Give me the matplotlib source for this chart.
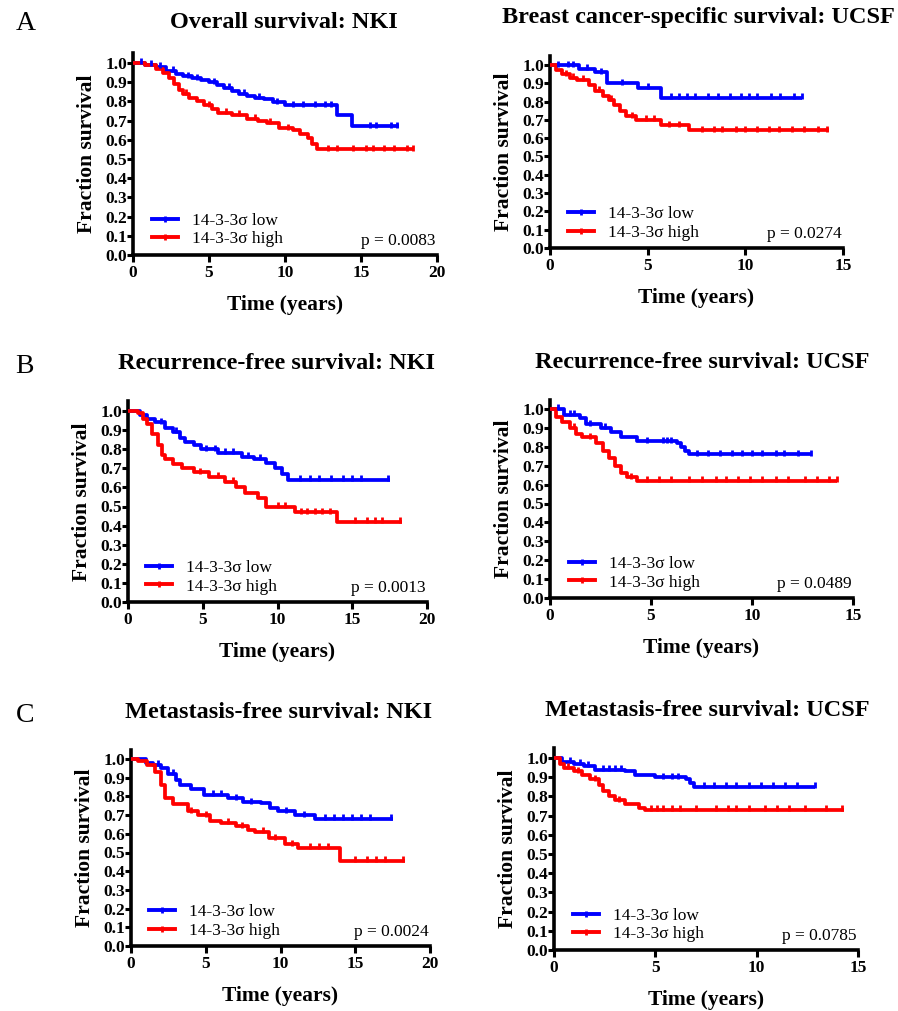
import numpy as np
import matplotlib
matplotlib.use('Agg')
import matplotlib.pyplot as plt
from matplotlib.lines import Line2D

plt.rcParams['font.family'] = ['Liberation Serif', 'DejaVu Serif']

W, H = 898, 1011

# ---- data ----
# A left: overall survival, NKI
os_nki_low_t = [0, 0.8, 1.5, 2.2, 2.8, 3.3, 3.9, 4.5, 5.0, 5.5, 6.0, 6.5, 7.0, 7.5, 8.0, 8.6, 9.2, 10.0, 13.4, 14.4, 17.5]
os_nki_low_s = [1.0, 0.99, 0.98, 0.96, 0.945, 0.93, 0.92, 0.91, 0.90, 0.885, 0.87, 0.855, 0.84, 0.83, 0.82, 0.81, 0.795, 0.78, 0.73, 0.67, 0.67]
os_nki_low_c = [0.5, 1.2, 1.8, 2.6, 3.6, 4.2, 5.3, 6.3, 7.3, 8.3, 9.5, 10.5, 11.2, 12.0, 12.6, 13.0, 15.6, 16.0, 17.0, 17.4]
os_nki_high_t = [0, 0.8, 1.5, 2.0, 2.4, 2.7, 3.0, 3.3, 3.7, 4.2, 4.7, 5.2, 5.6, 6.5, 7.5, 8.2, 8.8, 9.6, 10.5, 11.0, 11.5, 11.8, 12.1, 18.5]
os_nki_high_s = [1.0, 0.99, 0.97, 0.95, 0.92, 0.89, 0.86, 0.84, 0.82, 0.80, 0.78, 0.76, 0.74, 0.73, 0.71, 0.70, 0.69, 0.66, 0.65, 0.63, 0.61, 0.58, 0.55, 0.55]
os_nki_high_c = [3.5, 5.0, 6.1, 7.0, 8.0, 9.0, 10.2, 12.8, 13.4, 14.5, 15.3, 15.8, 16.5, 17.2, 18.0, 18.4]

# A right: breast cancer-specific survival, UCSF
bcss_ucsf_low_t = [0, 1.5, 2.3, 2.9, 4.5, 5.7, 12.9]
bcss_ucsf_low_s = [1.0, 0.98, 0.96, 0.90, 0.875, 0.82, 0.82]
bcss_ucsf_low_c = [0.4, 0.9, 1.2, 1.9, 2.6, 3.7, 5.0, 6.2, 6.6, 7.0, 7.4, 8.1, 8.6, 9.2, 9.8, 10.2, 10.6, 11.3, 11.8, 12.5, 12.9]
bcss_ucsf_high_t = [0, 0.3, 0.6, 1.0, 1.4, 2.0, 2.3, 2.7, 3.0, 3.3, 3.6, 3.9, 4.4, 5.7, 7.1, 14.3]
bcss_ucsf_high_s = [1.0, 0.97, 0.95, 0.93, 0.92, 0.89, 0.86, 0.83, 0.81, 0.78, 0.75, 0.72, 0.70, 0.67, 0.645, 0.645]
bcss_ucsf_high_c = [0.8, 1.2, 1.7, 2.5, 3.1, 4.2, 4.9, 5.3, 6.1, 6.6, 7.8, 8.4, 8.8, 9.5, 10.0, 10.6, 11.2, 11.7, 12.4, 13.0, 13.7, 14.2]

# B left: recurrence-free survival, NKI
rfs_nki_low_t = [0, 0.8, 1.3, 1.8, 2.5, 3.0, 3.5, 3.8, 4.4, 4.9, 6.0, 7.6, 8.4, 9.2, 9.8, 10.3, 10.7, 17.5]
rfs_nki_low_s = [1.0, 0.98, 0.96, 0.94, 0.91, 0.89, 0.86, 0.84, 0.82, 0.80, 0.78, 0.76, 0.75, 0.73, 0.70, 0.67, 0.64, 0.64]
rfs_nki_low_c = [2.2, 3.2, 5.2, 5.8, 6.5, 7.0, 8.0, 8.8, 11.5, 12.2, 12.8, 13.6, 14.4, 15.0, 15.6, 17.4]
rfs_nki_high_t = [0, 0.7, 1.0, 1.3, 1.6, 2.0, 2.3, 2.5, 3.0, 3.6, 4.4, 5.4, 6.5, 7.2, 7.8, 8.7, 9.2, 11.2, 14.0, 18.3]
rfs_nki_high_s = [1.0, 0.99, 0.96, 0.93, 0.88, 0.82, 0.77, 0.75, 0.72, 0.70, 0.68, 0.655, 0.63, 0.60, 0.57, 0.545, 0.50, 0.47, 0.42, 0.42]
rfs_nki_high_c = [4.8, 6.0, 7.0, 10.0, 10.5, 11.6, 12.0, 12.5, 13.0, 13.5, 15.2, 16.0, 16.5, 17.0, 18.2]

# B right: recurrence-free survival, UCSF
rfs_ucsf_low_t = [0, 0.7, 1.5, 1.8, 2.5, 3.0, 3.5, 4.3, 6.3, 6.5, 6.7, 6.9, 12.9]
rfs_ucsf_low_s = [1.0, 0.97, 0.95, 0.92, 0.90, 0.88, 0.85, 0.83, 0.82, 0.80, 0.78, 0.76, 0.76]
rfs_ucsf_low_c = [0.4, 1.0, 1.2, 2.0, 2.7, 4.8, 5.6, 5.8, 6.0, 7.3, 7.8, 8.4, 9.0, 9.5, 10.0, 10.5, 11.2, 11.6, 12.3, 12.9]
rfs_ucsf_high_t = [0, 0.3, 0.6, 1.0, 1.3, 1.6, 2.3, 2.6, 2.9, 3.2, 3.5, 3.8, 4.3, 14.2]
rfs_ucsf_high_s = [1.0, 0.96, 0.93, 0.90, 0.87, 0.85, 0.82, 0.78, 0.74, 0.70, 0.66, 0.64, 0.62, 0.62]
rfs_ucsf_high_c = [1.2, 2.0, 4.0, 4.8, 5.4, 6.0, 6.9, 7.5, 8.2, 8.7, 9.3, 9.9, 10.5, 11.2, 11.8, 12.6, 13.2, 13.8, 14.2]

# C left: metastasis-free survival, NKI
mfs_nki_low_t = [0, 1.0, 1.5, 2.0, 2.5, 3.0, 3.3, 4.0, 4.9, 6.5, 7.5, 8.7, 9.3, 9.8, 11.0, 12.3, 17.5]
mfs_nki_low_s = [1.0, 0.98, 0.97, 0.95, 0.92, 0.89, 0.86, 0.84, 0.81, 0.79, 0.77, 0.765, 0.74, 0.72, 0.70, 0.68, 0.68]
mfs_nki_low_c = [1.8, 2.8, 5.5, 6.0, 7.0, 8.0, 10.4, 11.6, 13.0, 13.6, 14.2, 14.8, 15.4, 16.0, 17.4]
mfs_nki_high_t = [0, 0.5, 1.1, 1.6, 2.0, 2.3, 2.8, 3.8, 4.5, 5.3, 6.0, 7.0, 7.8, 8.3, 9.2, 10.3, 11.2, 14.0, 18.3]
mfs_nki_high_s = [1.0, 0.99, 0.97, 0.93, 0.86, 0.79, 0.76, 0.72, 0.70, 0.67, 0.66, 0.64, 0.62, 0.61, 0.575, 0.545, 0.525, 0.455, 0.455]
mfs_nki_high_c = [4.0, 5.0, 6.5, 7.4, 8.8, 9.6, 10.8, 12.0, 12.6, 13.2, 15.0, 15.8, 16.4, 17.0, 18.2]

# C right: metastasis-free survival, UCSF
mfs_ucsf_low_t = [0, 0.4, 1.0, 1.5, 2.0, 3.5, 4.0, 5.0, 6.5, 6.7, 6.9, 12.9]
mfs_ucsf_low_s = [1.0, 0.98, 0.97, 0.96, 0.94, 0.93, 0.91, 0.90, 0.89, 0.87, 0.85, 0.85]
mfs_ucsf_low_c = [0.8, 1.3, 1.7, 2.4, 2.7, 3.0, 3.3, 5.4, 5.8, 6.1, 7.4, 7.9, 8.5, 9.0, 9.6, 10.2, 10.8, 11.4, 12.0, 12.9]
mfs_ucsf_high_t = [0, 0.3, 0.5, 1.0, 1.4, 1.8, 2.2, 2.4, 2.7, 3.0, 3.5, 4.2, 4.5, 14.3]
mfs_ucsf_high_s = [1.0, 0.97, 0.95, 0.93, 0.91, 0.89, 0.86, 0.83, 0.80, 0.78, 0.76, 0.74, 0.73, 0.73]
mfs_ucsf_high_c = [0.7, 1.2, 2.0, 3.2, 4.8, 5.1, 5.4, 5.8, 6.2, 7.0, 8.0, 8.6, 9.0, 9.6, 10.4, 11.0, 11.6, 12.4, 13.4, 14.2]

titles = ['Overall survival: NKI', 'Breast cancer-specific survival: UCSF',
          'Recurrence-free survival: NKI', 'Recurrence-free survival: UCSF',
          'Metastasis-free survival: NKI', 'Metastasis-free survival: UCSF']
p_values = ['p = 0.0083', 'p = 0.0274', 'p = 0.0013', 'p = 0.0489', 'p = 0.0024', 'p = 0.0785']
x_max = [20, 15, 20, 15, 20, 15]
legend_labels = ['14-3-3\u03c3 low', '14-3-3\u03c3 high']

curves = [
    (os_nki_low_t, os_nki_low_s, os_nki_low_c, os_nki_high_t, os_nki_high_s, os_nki_high_c),
    (bcss_ucsf_low_t, bcss_ucsf_low_s, bcss_ucsf_low_c, bcss_ucsf_high_t, bcss_ucsf_high_s, bcss_ucsf_high_c),
    (rfs_nki_low_t, rfs_nki_low_s, rfs_nki_low_c, rfs_nki_high_t, rfs_nki_high_s, rfs_nki_high_c),
    (rfs_ucsf_low_t, rfs_ucsf_low_s, rfs_ucsf_low_c, rfs_ucsf_high_t, rfs_ucsf_high_s, rfs_ucsf_high_c),
    (mfs_nki_low_t, mfs_nki_low_s, mfs_nki_low_c, mfs_nki_high_t, mfs_nki_high_s, mfs_nki_high_c),
    (mfs_ucsf_low_t, mfs_ucsf_low_s, mfs_ucsf_low_c, mfs_ucsf_high_t, mfs_ucsf_high_s, mfs_ucsf_high_c),
]

# ---- layout in pixels: x of y-axis, x of last tick, y of 0, y of 1.0 ----
boxes = [(133, 437, 255, 63), (550, 843, 248, 65),
         (128, 427, 602, 411), (550, 853, 598, 409),
         (131, 430, 946, 759), (554, 858, 950, 758)]
title_pos = [(284, 22), (698, 18), (276, 363), (702, 362), (279, 712), (707, 711)]
letters = [('A', 26, 23), ('B', 24, 366), ('C', 25, 715)]

BLUE = '#0000ff'
RED = '#ff0000'


def km(ax, t, s, cens, color):
    t = np.asarray(t)
    s = np.asarray(s)
    ax.step(t, s, where='post', color=color, lw=2.7, solid_capstyle='butt', zorder=3)
    idx = np.searchsorted(t, cens, side='right') - 1
    ax.plot(cens, s[idx] + 0.008, ls='none', marker='|', ms=5, mew=2.0, color=color, zorder=4)


fig = plt.figure(figsize=(W / 100, H / 100), dpi=100)

for i in range(6):
    x0, x1, y0, y1 = boxes[i]
    ppu = y0 - y1
    ax = fig.add_axes([x0 / W, 1 - y0 / H, (x1 - x0) / W, 1.05 * ppu / H])
    lt, ls_, lc, ht, hs, hc = curves[i]
    km(ax, lt, ls_, lc, BLUE)
    km(ax, ht, hs, hc, RED)

    ax.set_xlim(0, x_max[i])
    ax.set_ylim(0, 1.05)
    ax.set_xticks(np.arange(0, x_max[i] + 1, 5))
    ax.set_yticks(np.arange(0, 1.01, 0.1))
    ax.set_yticklabels(['%.1f' % v for v in np.arange(0, 1.01, 0.1)])
    for sp in ['top', 'right']:
        ax.spines[sp].set_visible(False)
    for sp in ['left', 'bottom']:
        ax.spines[sp].set_linewidth(2.6)
    ax.tick_params(axis='x', direction='out', width=2.2, length=5, pad=2, labelsize=12.5)
    ax.tick_params(axis='y', direction='out', width=2.2, length=4, pad=0, labelsize=12.5)
    for lab in ax.get_xticklabels() + ax.get_yticklabels():
        lab.set_fontweight('bold')
    ax.set_xlabel('Time (years)', fontsize=15.5, fontweight='bold', labelpad=10)
    ax.set_ylabel('Fraction survival', fontsize=15.5, fontweight='bold', labelpad=6)

    handles = [Line2D([0], [0], color=BLUE, lw=2.8, marker='|', ms=5, mew=2),
               Line2D([0], [0], color=RED, lw=2.8, marker='|', ms=5, mew=2)]
    ax.legend(handles, legend_labels, loc='lower left', bbox_to_anchor=(0.05, 0.02),
              frameon=False, fontsize=12.5, handlelength=1.5, handletextpad=0.8,
              labelspacing=0.12, borderpad=0.2, borderaxespad=0)
    ax.text(0.995, 0.03, p_values[i], transform=ax.transAxes, ha='right', va='bottom',
            fontsize=12.5)

    tx, ty = title_pos[i]
    fig.text(tx / W, 1 - ty / H, titles[i], ha='center', va='center',
             fontsize=17.5, fontweight='bold')

for lab, lx, ly in letters:
    fig.text(lx / W, 1 - ly / H, lab, ha='center', va='center', fontsize=20)

fig.savefig('out.png', dpi=100)
